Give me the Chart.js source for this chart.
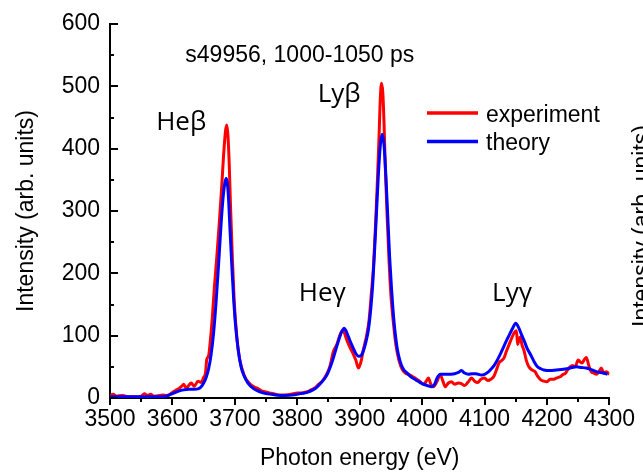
<!DOCTYPE html>
<html>
<head>
<meta charset="utf-8">
<script src="https://cdn.jsdelivr.net/npm/chart.js@4.4.1/dist/chart.umd.min.js"></script>
<style>
  html, body { margin: 0; padding: 0; background: #fff; }
</style>
</head>
<body>
<canvas id="chart" width="643" height="474"></canvas>
<script>
// values
const seriesNames = ["experiment", "theory"];

const expEnergy = [3500, 3505, 3510, 3520, 3530, 3540, 3550, 3555, 3560, 3565, 3570, 3580, 3585, 3590, 3595,
  3600, 3605, 3610, 3615, 3618, 3622, 3626, 3630, 3635, 3641, 3646, 3650, 3653, 3655, 3658, 3661, 3664, 3667,
  3671, 3675, 3679, 3682, 3685, 3687, 3689, 3691, 3693, 3696, 3699, 3703, 3707, 3712, 3717, 3722, 3727, 3732,
  3737, 3742, 3748, 3755, 3762, 3770, 3780, 3790, 3800, 3808, 3816, 3822, 3828, 3834, 3840, 3846, 3852, 3858,
  3863, 3868, 3872, 3875, 3879, 3884, 3889, 3894, 3898, 3902, 3906, 3911, 3915, 3918, 3922, 3925, 3928, 3931,
  3933, 3935, 3937, 3939, 3941, 3944, 3947, 3950, 3954, 3958, 3963, 3968, 3973, 3978, 3984, 3990, 3996, 4002,
  4006, 4010, 4014, 4018, 4023, 4029, 4033, 4037, 4042, 4047, 4052, 4058, 4063, 4068, 4074, 4079, 4084, 4089,
  4094, 4100, 4105, 4110, 4115, 4119, 4123, 4127, 4131, 4135, 4139, 4143, 4147, 4151, 4153, 4155, 4157, 4160,
  4163, 4167, 4171, 4176, 4181, 4185, 4190, 4195, 4200, 4205, 4210, 4215, 4221, 4226, 4229, 4233, 4237, 4241,
  4245, 4250, 4253, 4256, 4260, 4263, 4267, 4271, 4275, 4279, 4283, 4287, 4291, 4295, 4300];
const expIntensity = [3, 6, 3, 4, 2, 2, 3, 7, 4, 6, 3, 4, 5, 4, 5,
  9, 12, 15, 19, 22, 16, 20, 24, 19, 27, 25, 33, 40, 62, 68, 95, 130, 175,
  225, 280, 340, 390, 428, 438, 420, 375, 310, 225, 155, 100, 66, 45, 32, 25, 20, 17,
  15, 12, 10, 8, 7, 5, 5, 6, 8, 8, 10, 13, 16, 22, 27, 36, 50, 75,
  85, 100, 108, 106, 94, 82, 72, 60, 48, 58, 78, 100, 125, 160, 210, 270, 340, 420,
  480, 505, 490, 440, 370, 290, 220, 165, 120, 85, 60, 46, 40, 38, 35, 31, 27, 22,
  26, 32, 22, 18, 25, 37, 28, 18, 24, 26, 22, 24, 23, 20, 26, 32, 27, 25,
  30, 32, 28, 30, 35, 45, 56, 60, 64, 75, 85, 95, 104, 108, 86, 92, 98, 85,
  77, 60, 50, 45, 42, 35, 29, 27, 26, 30, 30, 32, 34, 38, 39, 45, 50, 52,
  50, 61, 58, 56, 62, 65, 52, 42, 40, 38, 42, 48, 40, 42, 38];

const theoryEnergy = [3500, 3550, 3580, 3590, 3595, 3600, 3605, 3610, 3618, 3626, 3634, 3642, 3646, 3650, 3654,
  3658, 3662, 3666, 3670, 3674, 3678, 3681, 3684, 3686, 3688, 3690, 3692, 3695, 3698, 3701, 3705, 3710, 3715,
  3721, 3730, 3740, 3750, 3765, 3780, 3795, 3805, 3816, 3825, 3832, 3842, 3848, 3853, 3858, 3863, 3868, 3872,
  3875, 3878, 3882, 3886, 3890, 3894, 3898, 3902, 3906, 3910, 3914, 3918, 3921, 3924, 3927, 3930, 3933, 3936,
  3939, 3942, 3945, 3948, 3951, 3955, 3960, 3965, 3970, 3976, 3982, 3990, 4000, 4008, 4016, 4020, 4024, 4029,
  4040, 4052, 4058, 4063, 4068, 4074, 4080, 4086, 4095, 4100, 4105, 4110, 4116, 4121, 4126, 4131, 4137, 4141,
  4145, 4150, 4155, 4159, 4163, 4168, 4174, 4179, 4184, 4190, 4195, 4205, 4215, 4226, 4237, 4247, 4255, 4263,
  4272, 4280, 4290, 4297];
const theoryIntensity = [2, 2, 2, 3, 5, 7, 9, 11, 13, 14, 14, 15, 18, 24, 33,
  47, 70, 105, 155, 215, 280, 320, 345, 352, 345, 318, 275, 215, 160, 118, 80, 50, 35,
  24, 15, 10, 7, 5, 4, 5, 7, 9, 13, 18, 29, 38, 50, 65, 82, 98, 108,
  112, 108, 98, 88, 79, 71, 67, 68, 76, 90, 110, 146, 185, 240, 300, 360, 405, 423,
  405, 355, 290, 225, 175, 122, 80, 58, 46, 40, 34, 29, 23, 20, 18, 22, 32, 38,
  38, 39, 41, 44, 40, 38, 39, 39, 37, 38, 41, 46, 53, 62, 72, 83, 96, 104,
  112, 120, 112, 102, 93, 80, 69, 59, 51, 47, 45, 44, 45, 46, 48, 50, 49, 48,
  45, 42, 40, 38];

const peakLabels = ["Heβ", "Lyβ", "Heγ", "Lyγ"];
const peakLabelEnergy = [3614, 3867, 3840, 4144];
const peakLabelIntensity = [430, 475, 156, 156];
const shotLabel = "s49956, 1000-1050 ps";
const xTitle = "Photon energy (eV)";
const yTitle = "Intensity (arb. units)";

const FONT = "'Liberation Sans', Arial, sans-serif";

function toPoints(xs, ys) {
  return xs.map((e, i) => ({ x: e, y: ys[i] }));
}

const decorations = {
  id: "decorations",
  afterDraw(chart) {
    const { ctx, chartArea: a, scales: { x, y } } = chart;
    ctx.save();
    ctx.strokeStyle = "#000";
    ctx.lineWidth = 2;
    ctx.beginPath();
    // y ticks point inward, x ticks outward
    for (let v = 0; v <= 600; v += 50) {
      const py = Math.round(y.getPixelForValue(v));
      ctx.moveTo(a.left, py);
      ctx.lineTo(a.left + (v % 100 === 0 ? 8 : 4), py);
    }
    for (let e = 3500; e <= 4300; e += 50) {
      const px = Math.round(x.getPixelForValue(e));
      ctx.moveTo(px, a.bottom);
      ctx.lineTo(px, a.bottom + (e % 100 === 0 ? 7 : 4));
    }
    ctx.stroke();

    ctx.fillStyle = "#000";
    ctx.textAlign = "center";
    ctx.textBaseline = "alphabetic";
    ctx.font = "23px " + FONT;
    ctx.fillText(shotLabel, x.getPixelForValue(3804), y.getPixelForValue(539));

    ctx.font = "26px 'Open Sans', sans-serif";
    peakLabels.forEach((t, i) => {
      ctx.fillText(t, x.getPixelForValue(peakLabelEnergy[i]), y.getPixelForValue(peakLabelIntensity[i]));
    });

    // legend
    ctx.font = "23px " + FONT;
    ctx.textAlign = "left";
    chart.data.datasets.forEach((ds, i) => {
      const ly = 113 + i * 28.5;
      ctx.strokeStyle = ds.borderColor;
      ctx.lineWidth = 3.5;
      ctx.beginPath();
      ctx.moveTo(427, ly);
      ctx.lineTo(478, ly);
      ctx.stroke();
      ctx.fillText(ds.label, 486, ly + 8.5);
    });

    // neighbouring panel's axis title, cut by the right edge
    ctx.translate(643, 226);
    ctx.rotate(-Math.PI / 2);
    ctx.textAlign = "center";
    ctx.textBaseline = "middle";
    ctx.fillText(yTitle, 0, 0);
    ctx.restore();
  }
};

new Chart(document.getElementById("chart"), {
  type: "line",
  data: {
    datasets: [
      {
        label: seriesNames[0],
        data: toPoints(expEnergy, expIntensity),
        borderColor: "#ff0000",
        borderWidth: 3,
        pointRadius: 0,
        cubicInterpolationMode: "monotone",
        order: 2
      },
      {
        label: seriesNames[1],
        data: toPoints(theoryEnergy, theoryIntensity),
        borderColor: "#0000ff",
        borderWidth: 3,
        pointRadius: 0,
        cubicInterpolationMode: "monotone",
        order: 1
      }
    ]
  },
  options: {
    responsive: false,
    devicePixelRatio: 1,
    animation: false,
    layout: { padding: { left: 0, top: 24, right: 26.5, bottom: 0 } },
    plugins: { legend: { display: false }, tooltip: { enabled: false } },
    scales: {
      x: {
        type: "linear",
        min: 3500,
        max: 4300,
        afterFit(scale) { scale.height = 76; },
        grid: { display: true, drawOnChartArea: false, drawTicks: false },
        border: { display: true, color: "#000", width: 2 },
        ticks: {
          stepSize: 100,
          autoSkip: false,
          maxRotation: 0,
          padding: 8,
          color: "#000",
          font: { family: FONT, size: 23 },
          callback: (v) => String(v)
        },
        title: {
          display: true,
          text: xTitle,
          color: "#000",
          font: { family: FONT, size: 23 },
          padding: { top: 0, bottom: 2 }
        }
      },
      y: {
        min: 0,
        max: 600,
        afterFit(scale) { scale.width = 110; },
        grid: { display: true, drawOnChartArea: false, drawTicks: false },
        border: { display: true, color: "#000", width: 2 },
        ticks: {
          stepSize: 100,
          padding: 10,
          color: "#000",
          font: { family: FONT, size: 23 },
          callback: (v) => String(v)
        },
        title: {
          display: true,
          text: yTitle,
          color: "#000",
          font: { family: FONT, size: 23 },
          padding: { top: 13, bottom: 0 }
        }
      }
    }
  },
  plugins: [decorations]
});
</script>
</body>
</html>
